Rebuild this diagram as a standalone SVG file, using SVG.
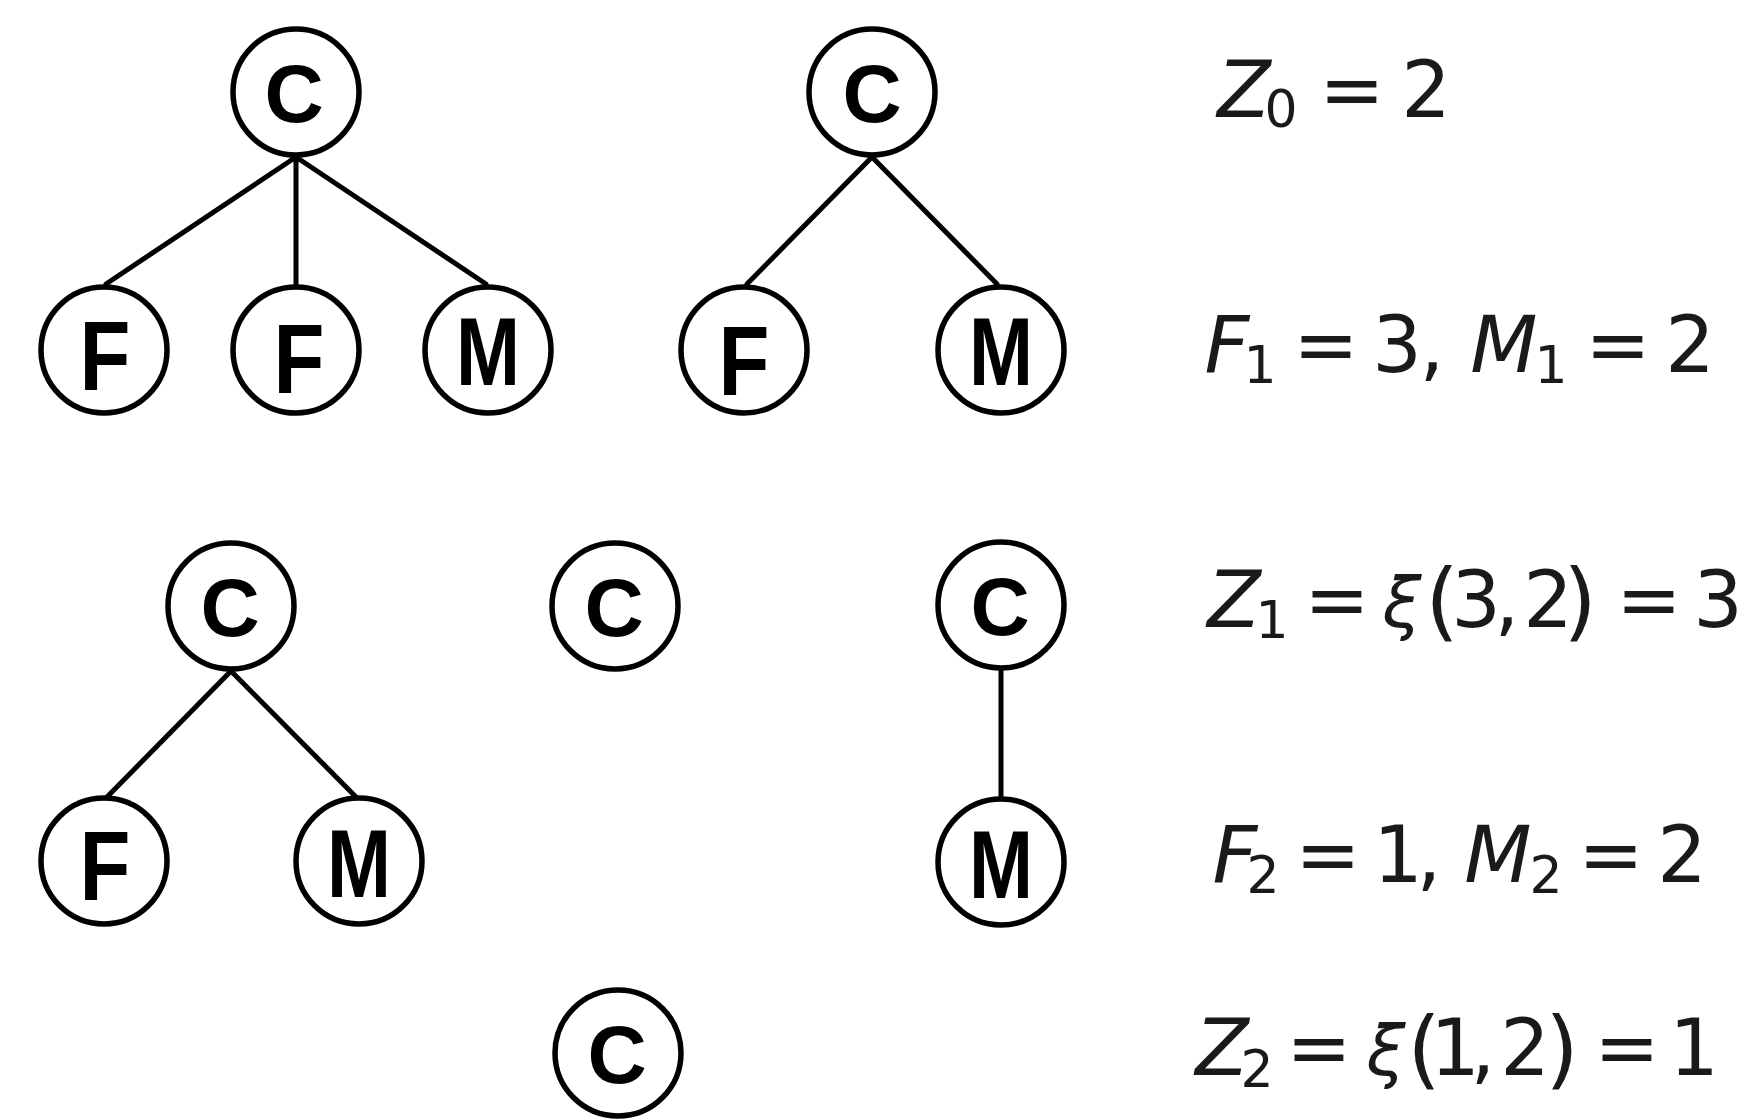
<svg xmlns="http://www.w3.org/2000/svg" width="1742" height="1120" viewBox="0 0 1742 1120">
<style>
.node circle{fill:#fff;stroke:#000;stroke-width:5.5}
.lc,.lf,.lm{font-family:"Liberation Sans","DejaVu Sans",sans-serif;font-weight:bold;text-anchor:middle;fill:#000}
.lc{font-size:82px}
.lf{font-size:98px}
.lm{font-size:96px}
.edges line{stroke:#000;stroke-width:5;stroke-linecap:round}
.eq{font-family:"DejaVu Sans","Liberation Sans",sans-serif;font-size:78px;fill:#1a1a1a;text-anchor:middle}
.eq .i{font-style:italic}
.eq .s{font-size:52px}
.eq .p{font-size:86px}
.eq .x{font-size:70px;font-style:italic}
</style>
<rect width="1742" height="1120" fill="#fff"/>
<g class="edges">
<line x1="296" y1="157" x2="106" y2="284"/>
<line x1="296" y1="157" x2="296" y2="284"/>
<line x1="296" y1="157" x2="486" y2="284"/>
<line x1="872" y1="157" x2="747" y2="284"/>
<line x1="872" y1="157" x2="997" y2="284"/>
<line x1="231" y1="671" x2="107" y2="797"/>
<line x1="231" y1="671" x2="356" y2="797"/>
<line x1="1001" y1="670" x2="1001" y2="798"/>
</g>
<g id="c1" class="node"><circle cx="296" cy="92" r="63"/><text class="lc" x="294" y="122">C</text></g>
<g id="f1" class="node"><circle cx="104" cy="350" r="63"/><text class="lf" transform="translate(105,390) scale(0.85,1)" x="0" y="0">F</text></g>
<g id="f2" class="node"><circle cx="296" cy="350" r="63"/><text class="lf" transform="translate(299,393) scale(0.85,1)" x="0" y="0">F</text></g>
<g id="m1" class="node"><circle cx="488" cy="350" r="63"/><text class="lm" transform="translate(488,385) scale(0.8,1)" x="0" y="0">M</text></g>
<g id="c2" class="node"><circle cx="872" cy="92" r="63"/><text class="lc" x="872" y="122">C</text></g>
<g id="f3" class="node"><circle cx="744" cy="350" r="63"/><text class="lf" transform="translate(744,395) scale(0.85,1)" x="0" y="0">F</text></g>
<g id="m2" class="node"><circle cx="1001" cy="350" r="63"/><text class="lm" transform="translate(1001,385) scale(0.8,1)" x="0" y="0">M</text></g>
<g id="c3" class="node"><circle cx="231" cy="606" r="63"/><text class="lc" x="230" y="636">C</text></g>
<g id="c4" class="node"><circle cx="615" cy="606" r="63"/><text class="lc" x="614" y="636">C</text></g>
<g id="c5" class="node"><circle cx="1001" cy="605" r="63"/><text class="lc" x="1000" y="635">C</text></g>
<g id="f4" class="node"><circle cx="104" cy="861" r="63"/><text class="lf" transform="translate(105,900) scale(0.85,1)" x="0" y="0">F</text></g>
<g id="m3" class="node"><circle cx="359" cy="861" r="63"/><text class="lm" transform="translate(359,897) scale(0.8,1)" x="0" y="0">M</text></g>
<g id="m4" class="node"><circle cx="1001" cy="862" r="63"/><text class="lm" transform="translate(1001,898) scale(0.8,1)" x="0" y="0">M</text></g>
<g id="c6" class="node"><circle cx="618" cy="1053" r="63"/><text class="lc" x="617" y="1083">C</text></g>
<g id="eq1"><text class="eq"><tspan class="i" x="1244" y="117">Z</tspan><tspan class="s" x="1281" y="127">0</tspan><tspan x="1352" y="117">=</tspan><tspan x="1426" y="117">2</tspan></text></g>
<g id="eq2"><text class="eq"><tspan class="i" x="1227" y="372">F</tspan><tspan class="s" x="1260" y="383">1</tspan><tspan x="1326" y="372">=</tspan><tspan x="1397" y="372">3</tspan><tspan x="1432" y="372">,</tspan><tspan class="i" x="1504" y="372">M</tspan><tspan class="s" x="1551" y="383">1</tspan><tspan x="1618" y="372">=</tspan><tspan x="1690" y="372">2</tspan></text></g>
<g id="eq3"><text class="eq"><tspan class="i" x="1234" y="627">Z</tspan><tspan class="s" x="1272" y="638">1</tspan><tspan x="1337" y="627">=</tspan><tspan class="x" x="1402" y="627">ξ</tspan><tspan class="p" x="1442" y="630">(</tspan><tspan x="1476" y="627">3</tspan><tspan x="1507" y="627">,</tspan><tspan x="1548" y="627">2</tspan><tspan class="p" x="1580" y="630">)</tspan><tspan x="1649" y="627">=</tspan><tspan x="1718" y="627">3</tspan></text></g>
<g id="eq4"><text class="eq"><tspan class="i" x="1235" y="882">F</tspan><tspan class="s" x="1263" y="893">2</tspan><tspan x="1328" y="882">=</tspan><tspan x="1398" y="882">1</tspan><tspan x="1429" y="882">,</tspan><tspan class="i" x="1498" y="882">M</tspan><tspan class="s" x="1546" y="893">2</tspan><tspan x="1611" y="882">=</tspan><tspan x="1682" y="882">2</tspan></text></g>
<g id="eq5"><text class="eq"><tspan class="i" x="1222" y="1075">Z</tspan><tspan class="s" x="1257" y="1087">2</tspan><tspan x="1319" y="1075">=</tspan><tspan class="x" x="1386" y="1075">ξ</tspan><tspan class="p" x="1424" y="1078">(</tspan><tspan x="1455" y="1075">1</tspan><tspan x="1483" y="1075">,</tspan><tspan x="1525" y="1075">2</tspan><tspan class="p" x="1562" y="1078">)</tspan><tspan x="1627" y="1075">=</tspan><tspan x="1694" y="1075">1</tspan></text></g>
</svg>
